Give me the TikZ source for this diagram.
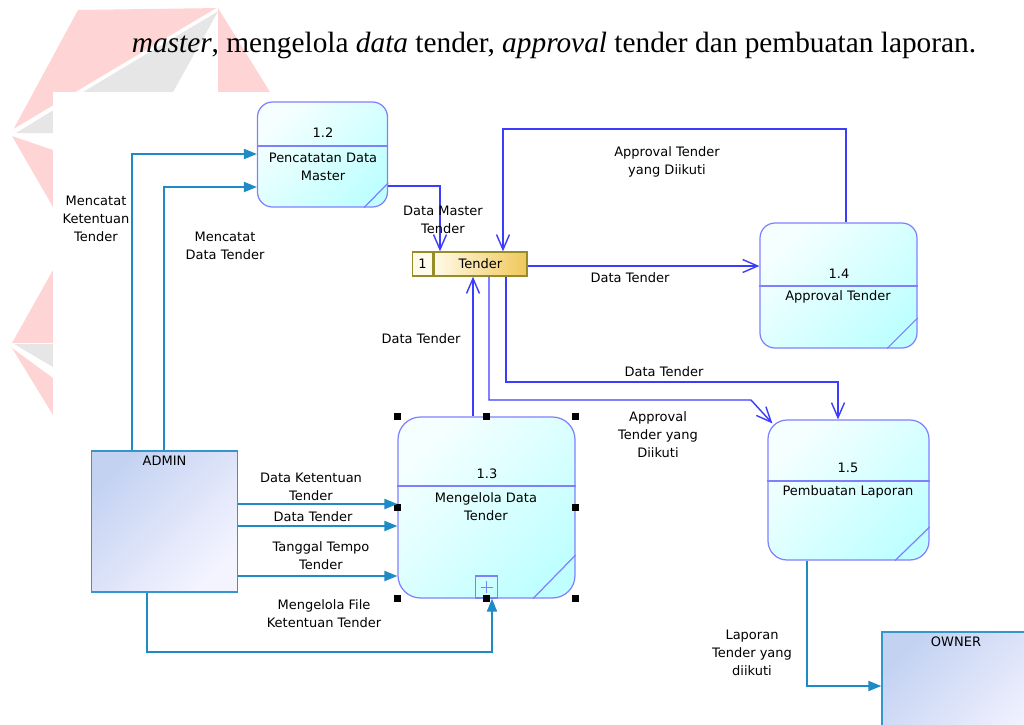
\documentclass[tikz,border=0pt]{standalone}
\usepackage{fontspec}
\setmainfont{Liberation Serif}
\newfontfamily\dfdfont{DejaVu Sans}
\usepackage{tikz}
\usetikzlibrary{arrows.meta,positioning,calc}

\definecolor{procline}{RGB}{128,128,255}
\definecolor{proctop}{RGB}{246,255,255}
\definecolor{procbot}{RGB}{192,255,255}
\definecolor{entline}{RGB}{52,150,204}
\definecolor{entdark}{RGB}{196,210,242}
\definecolor{entlight}{RGB}{244,244,255}
\definecolor{storeline}{RGB}{150,140,40}
\definecolor{storelight}{RGB}{255,250,232}
\definecolor{storegold}{RGB}{240,200,90}
\definecolor{storecream}{RGB}{255,252,236}
\definecolor{flowteal}{RGB}{30,138,198}
\definecolor{flowblue}{RGB}{60,60,255}
\definecolor{wmpink}{RGB}{255,212,212}
\definecolor{wmgray}{RGB}{230,230,230}

\begin{document}
\begin{tikzpicture}[
    x=0.02cm, y=-0.02cm,
    every node/.style={font=\dfdfont\fontsize{7.4}{10.2}\selectfont, text=black},
    process/.style={rectangle, draw=procline, line width=0.7pt, rounded corners=0.3cm, top color=proctop, bottom color=procbot, shading angle=45, inner sep=0pt},
    procsep/.style={draw=procline, line width=0.7pt},
    entity/.style={rectangle, draw=entline, line width=0.8pt, top color=entdark, bottom color=entlight, shading angle=45, inner sep=0pt},
    entname/.style={anchor=north, inner sep=3pt},
    store/.style={rectangle, draw=storeline, line width=0.8pt, left color=storelight, right color=storegold, minimum height=0.48cm, inner sep=0pt},
    storeid/.style={rectangle, draw=storeline, line width=0.8pt, fill=storecream, minimum height=0.48cm, minimum width=0.4cm, inner sep=0pt},
    handle/.style={rectangle, fill=black, minimum size=0.14cm, inner sep=0pt},
    plusbox/.style={rectangle, draw=procline, line width=0.7pt, minimum size=0.44cm, inner sep=0pt},
    flow/.style={draw=flowteal, line width=1.1pt, -{Triangle[length=0.26cm,width=0.2cm]}},
    dflow/.style={draw=flowblue, line width=0.8pt, -{Straight Barb[length=0.3cm,width=0.26cm]}},
    lbl/.style={align=center, inner sep=1pt}
]
\useasboundingbox (0,0) rectangle (1024,724);

% watermark behind the page
\fill[wmpink] (78,10) -- (220,8) -- (12,132) -- cycle;
\fill[wmgray] (220,8) -- (16,133) -- (53,133) -- (53,92) -- (173,92) -- cycle;
\draw[white, line width=2pt] (12,132) -- (220,8);
\fill[wmpink] (218,8) -- (270,92) -- (218,92) -- cycle;
\fill[wmpink] (12,136) -- (53,207) -- (53,150) -- cycle;
\fill[wmpink] (53,270) -- (12,343) -- (53,343) -- cycle;
\fill[wmgray] (14,344) -- (53,344) -- (53,367) -- cycle;
\fill[wmpink] (12,348) -- (53,415) -- (53,378) -- cycle;
\fill[white] (53,92) rectangle (1024,724);

% text line above the diagram
\node[font=\fontsize{16.7}{20}\selectfont, text=black, anchor=base] (caption) at (554,52)
    {\textit{master}, mengelola \textit{data} tender, \textit{approval} tender dan pembuatan laporan.};

% processes
\node[process, minimum width=2.6cm, minimum height=2.1cm] (p12) at (322.5,154.5) {};
\draw[procsep] (p12.west |- 0,146) -- (p12.east |- 0,146);
\draw[procsep] (p12.east |- 0,183) -- (p12.south -| 364,0);
\node (p12no) at (323,133) {1.2};
\node[lbl] (p12name) at (323,167) {Pencatatan Data\\Master};

\node[process, minimum width=3.14cm, minimum height=2.5cm] (p14) at (838.5,285.5) {};
\draw[procsep] (p14.west |- 0,286) -- (p14.east |- 0,286);
\draw[procsep] (p14.east |- 0,318) -- (p14.south -| 887,0);
\node (p14no) at (839,274) {1.4};
\node[lbl] (p14name) at (838,297) {Approval Tender};

\node[process, rounded corners=0.45cm, minimum width=3.54cm, minimum height=3.62cm] (p13) at (486.5,507.5) {};
\draw[procsep] (p13.west |- 0,486) -- (p13.east |- 0,486);
\draw[procsep] (p13.east |- 0,555) -- (p13.south -| 533,0);
\node (p13no) at (487,474) {1.3};
\node[lbl] (p13name) at (486,506.5) {Mengelola Data\\Tender};
\node[plusbox, anchor=south] (p13sub) at (p13.south) {};
\draw[procsep, line width=0.5pt] ($(p13sub.center)+(-6,0)$) -- ($(p13sub.center)+(6,0)$);
\draw[procsep, line width=0.5pt] ($(p13sub.center)+(0,-6)$) -- ($(p13sub.center)+(0,6)$);

\node[process, rounded corners=0.38cm, minimum width=3.22cm, minimum height=2.8cm] (p15) at (848.5,490) {};
\draw[procsep] (p15.west |- 0,481) -- (p15.east |- 0,481);
\draw[procsep] (p15.east |- 0,527) -- (p15.south -| 895,0);
\node (p15no) at (848,468) {1.5};
\node[lbl] (p15name) at (848,492) {Pembuatan Laporan};

% data store
\node[store, minimum width=1.86cm] (tender) at (480.5,264) {Tender};
\node[storeid, left=0pt of tender] (tenderno) {1};

% external entities
\node[entity, minimum width=2.92cm, minimum height=2.82cm, label={[entname]north:ADMIN}] (admin) at (164.5,521.5) {};
\node[entity, minimum width=2.96cm, minimum height=2.84cm, label={[entname]north:OWNER}] (owner) at (956,703) {};

% selection handles on 1.3
\foreach \a in {north west,north,north east,west,east,south west,south,south east}
    \node[handle] at (p13.\a) {};

% flows from and to the entities
\draw[flow] (admin.north -| 132,0) |- (p12.west |- 0,154);
\draw[flow] (admin.north -| 164,0) |- (p12.west |- 0,187);
\draw[flow] (admin.east |- 0,504) -- (p13.west |- 0,504);
\draw[flow] (admin.east |- 0,526) -- (p13.west |- 0,526);
\draw[flow] (admin.east |- 0,576) -- (p13.west |- 0,576);
\draw[flow] (admin.south -| 147,0) -- (147,652) -| (p13.south -| 492,0);
\draw[flow] (p15.south -| 807,0) |- (owner.west |- 0,686);

% flows between processes and store
\draw[dflow] (p12.east |- 0,186) -| (tender.north -| 440,0);
\draw[dflow] (p14.north -| 846,0) -- (846,129) -| (tender.north -| 503,0);
\draw[dflow] (tender.east |- 0,266) -- (p14.west |- 0,266);
\draw[dflow] (p13.north -| 473,0) -- (tender.south -| 473,0);
\draw[dflow] (tender.south -| 506,0) -- (506,382) -| (p15.north -| 838,0);
\draw[dflow] (tender.south -| 489,0) -- (489,400) -- (751,400) -- ($(p15.north west)+(5,4)$);

% flow labels
\node[lbl] (l1) at (96,219) {Mencatat\\Ketentuan\\Tender};
\node[lbl] (l2) at (225,246) {Mencatat\\Data Tender};
\node[lbl] (l3) at (443,220) {Data Master\\Tender};
\node[lbl] (l4) at (667,162) {Approval Tender\\yang Diikuti};
\node[lbl] (l5) at (630,278) {Data Tender};
\node[lbl] (l6) at (421,339) {Data Tender};
\node[lbl] (l7) at (664,372) {Data Tender};
\node[lbl] (l8) at (658,435) {Approval\\Tender yang\\Diikuti};
\node[lbl] (l9) at (311,487) {Data Ketentuan\\Tender};
\node[lbl] (l10) at (313,517) {Data Tender};
\node[lbl] (l11) at (321,556) {Tanggal Tempo\\Tender};
\node[lbl] (l12) at (324,614) {Mengelola File\\Ketentuan Tender};
\node[lbl] (l13) at (752,653) {Laporan\\Tender yang\\diikuti};

\end{tikzpicture}
\end{document}
